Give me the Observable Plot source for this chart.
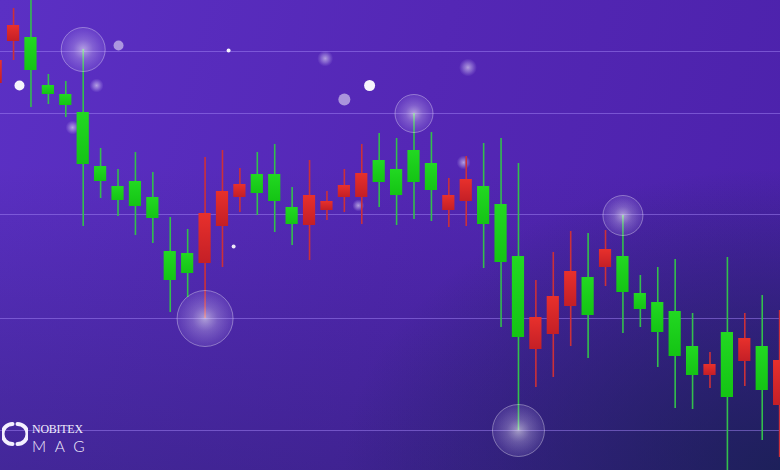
<!DOCTYPE html>
<html><head><meta charset="utf-8">
<script src="https://cdn.jsdelivr.net/npm/d3@7"></script>
<script src="https://cdn.jsdelivr.net/npm/@observablehq/plot@0.6"></script>
<style>
html,body{margin:0;padding:0;background:#3a2590;}
#wrap{position:relative;width:780px;height:470px;overflow:hidden;
 background:
  radial-gradient(ellipse 70% 80% at 100% 100%, rgba(22,32,78,0.8) 0%, rgba(22,32,78,0.35) 45%, rgba(22,32,78,0) 80%),
  linear-gradient(to bottom, rgba(20,22,64,0) 35%, rgba(20,26,72,0.32) 100%),
  linear-gradient(105deg, #5b30c4 0%, #5427b5 50%, #4b21aa 100%);}
#chart{position:absolute;left:0;top:0;}
#logo{position:absolute;left:2px;top:421px;display:flex;align-items:flex-start;color:#f2eefc;}
#logo .t1{font-family:"Liberation Serif","DejaVu Serif",serif;font-size:12.5px;line-height:14px;letter-spacing:-0.2px;margin-top:1px;transform:scaleX(0.95);transform-origin:left;}
#logo .t2{font-family:Lato,"Open Sans",sans-serif;font-weight:300;font-size:15.5px;line-height:16px;letter-spacing:8.6px;margin-top:2px;}
</style></head><body>
<div id="wrap"><div id="chart"></div>
<div id="logo">
 <svg width="26" height="26" viewBox="0 0 26 26" style="margin-right:4px">
  <path d="M10.5 3 A10 10 0 0 0 10.5 23" fill="none" stroke="#f4f0ff" stroke-width="4" stroke-linecap="round"/>
  <path d="M15.5 23 A10 10 0 0 0 15.5 3" fill="none" stroke="#f4f0ff" stroke-width="4" stroke-linecap="round"/>
 </svg>
 <div><div class="t1">NOBITEX</div><div class="t2">MAG</div></div>
</div>
</div>
<script>
// Candle values (price units), one entry per candle, left to right
const open  = [410,445,400,376,365,306,289,270,264,252,190,197,257,279,286,277,269,246,275,269,285,297,288,275,288,280,275,291,246,208,133,153,174,199,155,221,178,161,138,114, 95,106, 73,132, 80,110];
const close = [387,429,433,385,376,358,304,284,289,273,219,217,207,244,273,296,296,263,245,260,273,273,310,301,320,307,260,269,284,266,214,121,136,164,193,203,214,177,168,159,124, 95,138,109,124, 65];
const high  = [425,462,478,396,389,421,322,301,318,298,253,241,313,320,302,318,326,283,310,279,301,326,337,332,357,338,292,314,327,332,307,190,218,239,237,240,255,195,203,211,157,118,213,157,175,160];
const low   = [370,410,363,366,353,244,272,254,235,227,158,173,152,203,258,255,238,225,210,250,258,246,263,245,251,249,243,244,202,143, 40, 83, 93,124,112,184,137,143,103, 62, 61, 82,-10, 84, 30, 13];

// Horizontal guide levels (price)
const gridLevels = [419, 357, 256, 152, 40];

// Highlighted wick ends: candle index, which end, halo radius
const glowCandle = [5, 12, 24, 30, 36];
const glowEnd    = ["high", "low", "high", "low", "high"];
const glowRadius = [22, 28, 19, 26, 20];

// Decorative bokeh dots (x in candle units, y in price)
const dotX  = [1.34, 7.03, 13.35, 21.45, 20.0, 13.64];
const dotY  = [385, 425, 420, 385, 371, 224];
const dotR  = [5, 5, 2, 5.5, 6, 2];
const dotOp = [0.95, 0.5, 0.95, 0.95, 0.5, 0.9];
const softX = [18.9, 4.39, 26.85, 20.8, 27.1, 5.77];
const softY = [412, 343, 308, 265, 403, 385];
const softR = [8, 7, 7, 6, 9, 7];

const candles = open.map((o, i) => ({i, open: o, close: close[i], high: high[i], low: low[i], up: close[i] >= o}));
const ups = candles.filter(d => d.up), downs = candles.filter(d => !d.up);
const glows = glowCandle.map((c, k) => ({x: c, y: candles[c][glowEnd[k]], r: glowRadius[k]}));
const dots = dotX.map((x, k) => ({x, y: dotY[k], r: dotR[k], op: dotOp[k]}));
const softs = softX.map((x, k) => ({x, y: softY[k], r: softR[k]}));

const half = 0.35;
const svg = Plot.plot({
  width: 780, height: 470, margin: 0,
  x: {domain: [0.25, 45.05], axis: null},
  y: {domain: [0, 470], axis: null},
  r: {type: "identity"},
  style: {background: "transparent"},
  marks: [
    Plot.ruleY(gridLevels, {stroke: "#a184f5", strokeOpacity: 0.5, strokeWidth: 1}),
    Plot.dot(softs, {x: "x", y: "y", r: "r", fill: "url(#soft)", stroke: "none"}),
    Plot.dot(dots, {x: "x", y: "y", r: "r", fill: "#ffffff", fillOpacity: d => d.op, stroke: "none"}),
    Plot.ruleX(ups, {x: "i", y1: "low", y2: "high", stroke: "#33bf4c", strokeWidth: 1.6}),
    Plot.ruleX(downs, {x: "i", y1: "low", y2: "high", stroke: "#cc3038", strokeWidth: 1.6}),
    Plot.rect(ups, {x1: d => d.i - half, x2: d => d.i + half, y1: "open", y2: "close", fill: "url(#gUp)"}),
    Plot.rect(downs, {x1: d => d.i - half, x2: d => d.i + half, y1: "open", y2: "close", fill: "url(#gDown)"}),
    Plot.dot(glows, {x: "x", y: "y", r: "r", fill: "url(#glow)", stroke: "#ffffff", strokeOpacity: 0.35, strokeWidth: 1})
  ]
});
const defs = d3.select(svg).insert("defs", ":first-child");
defs.html(`
 <linearGradient id="gUp" x1="0" y1="0" x2="0" y2="1">
   <stop offset="0" stop-color="#22d822"/><stop offset="1" stop-color="#14c414"/></linearGradient>
 <linearGradient id="gDown" x1="0" y1="0" x2="0" y2="1">
   <stop offset="0" stop-color="#e8302c"/><stop offset="1" stop-color="#c41f26"/></linearGradient>
 <radialGradient id="glow">
   <stop offset="0" stop-color="#ffffff" stop-opacity="0.55"/>
   <stop offset="0.45" stop-color="#e4d8ff" stop-opacity="0.3"/>
   <stop offset="1" stop-color="#c8b4ff" stop-opacity="0.12"/></radialGradient>
 <radialGradient id="soft">
   <stop offset="0" stop-color="#ffffff" stop-opacity="0.55"/>
   <stop offset="0.5" stop-color="#ece4ff" stop-opacity="0.3"/>
   <stop offset="1" stop-color="#d8c8ff" stop-opacity="0"/></radialGradient>`);
document.getElementById("chart").appendChild(svg);
</script>
</body></html>
